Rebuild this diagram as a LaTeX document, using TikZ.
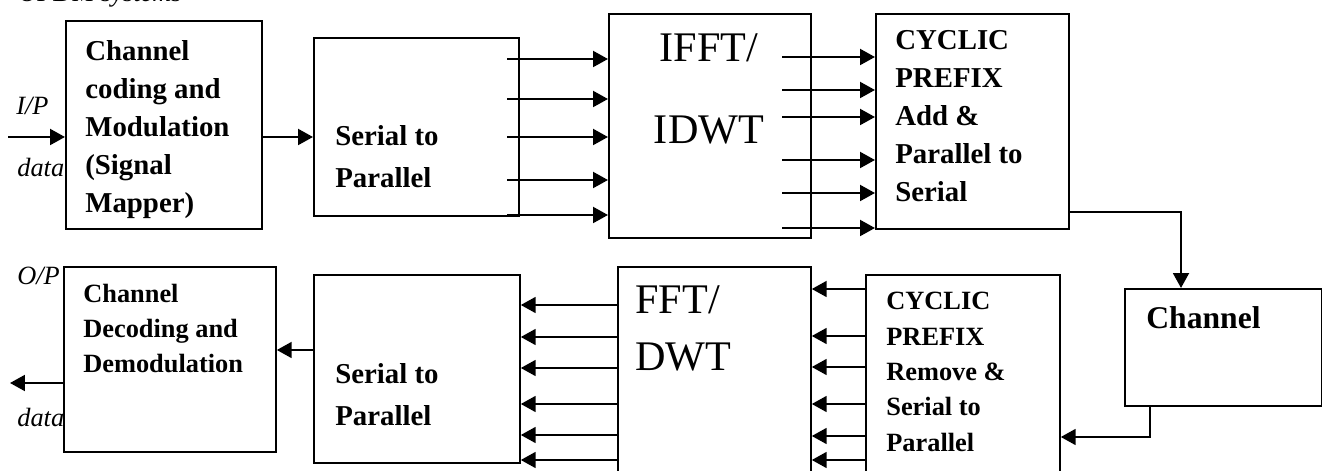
\documentclass[tikz,border=0pt]{standalone}
\usepackage{fontspec}
\setmainfont{Liberation Serif}
\usetikzlibrary{arrows.meta}

\begin{document}
\begin{tikzpicture}[
    blk/.style={rectangle, draw, line width=1pt, anchor=north west,
      inner sep=0pt},
    bt/.style={font=\fontsize{16.4}{21.7}\selectfont\bfseries, align=left,
      anchor=north west, inner sep=0pt},
    st/.style={font=\fontsize{15}{19.9}\selectfont\bfseries, align=left,
      anchor=north west, inner sep=0pt},
    big/.style={font=\fontsize{24}{47}\selectfont, inner sep=0pt},
    io/.style={font=\fontsize{15}{18}\selectfont\itshape, anchor=base west,
      inner sep=0pt},
    arr/.style={-{Triangle[length=8.5pt, width=9pt]}, line width=1.4pt}
  ]
  \useasboundingbox (0,0) rectangle (26.44,-9.42);
  \clip (0,0) rectangle (26.44,-9.42);
  % === Transmitter row ===
  \node[io] (title) at (0.36,-0.04) {OFDM systems};
  \node[blk, minimum width=3.92cm, minimum height=4.16cm] (cc) at (1.30,-0.40) {};
  \node[blk, minimum width=4.10cm, minimum height=3.56cm] (sp1) at (6.26,-0.74) {};
  \node[blk, minimum width=4.04cm, minimum height=4.48cm] (ifft) at (12.16,-0.26) {};
  \node[blk, minimum width=3.86cm, minimum height=4.30cm] (cpa) at (17.50,-0.26) {};
  \node[blk, minimum width=3.94cm, minimum height=2.34cm] (chan) at (22.48,-5.76) {};
  % box texts
  \node[bt] (cctxt) at (1.70,-0.80)
  {Channel\\coding and\\Modulation\\(Signal\\Mapper)};
  \node[bt, font=\fontsize{16.4}{23.8}\selectfont\bfseries] (sp1txt)
  at (6.70,-2.50) {Serial to\\Parallel};
  \node[big, anchor=north, align=center] (iffttxt) at (14.18,-0.66)
  {IFFT/\\IDWT};
  \node[bt] (cpatxt) at (17.90,-0.60)
  {CYCLIC\\PREFIX\\Add \&\\Parallel to\\Serial};
  \node[font=\fontsize{18}{22}\selectfont\bfseries, anchor=base west,
  inner sep=0pt] (chantxt) at (22.92,-6.58) {Channel};
  % === Receiver row ===
  \node[blk, minimum width=4.24cm, minimum height=3.70cm] (cd) at (1.26,-5.32) {};
  \node[blk, minimum width=4.12cm, minimum height=3.76cm] (sp2) at (6.26,-5.48) {};
  \node[blk, minimum width=3.86cm, minimum height=4.30cm] (fft) at (12.34,-5.32) {};
  \node[blk, minimum width=3.88cm, minimum height=4.20cm] (cpr) at (17.30,-5.48) {};
  \node[st] (cdtxt) at (1.66,-5.68) {Channel\\Decoding and\\Demodulation};
  \node[bt, font=\fontsize{16.4}{23.8}\selectfont\bfseries] (sp2txt)
  at (6.70,-7.26) {Serial to\\Parallel};
  \node[big, font=\fontsize{24}{32.9}\selectfont, anchor=north west,
  align=left] (ffttxt) at (12.70,-5.70) {FFT/\\DWT};
  \node[st, font=\fontsize{15}{20.1}\selectfont\bfseries] (cprtxt)
  at (17.72,-5.84) {CYCLIC\\PREFIX\\Remove \&\\Serial to\\Parallel};
  % I/O labels
  \node[io] (iplbl) at (0.32,-2.30) {I/P};
  \node[io] (ipdata) at (0.34,-3.54) {data};
  \node[io] (oplbl) at (0.34,-5.70) {O/P};
  \node[io] (opdata) at (0.34,-8.52) {data};
  % === Connectors ===
  \coordinate (inp) at (0.16,-2.74);
  \draw[arr] (inp) -- (inp -| cc.west);
  \draw[arr] (inp -| cc.east) -- (inp -| sp1.west);
  \foreach \y in {-1.18,-1.98,-2.74,-3.60,-4.30} {
    \coordinate (s) at (10.14,\y);
    \draw[arr] (s) -- (s -| ifft.west);
  }
  \foreach \y in {-1.14,-1.80,-2.34,-3.20,-3.86,-4.56} {
    \coordinate (s) at (15.64,\y);
    \draw[arr] (s) -- (s -| cpa.west);
  }
  \coordinate (c1) at (23.62,-4.24);
  \draw[arr] (c1 -| cpa.east) -- (c1) -- (c1 |- chan.north);
  \coordinate (c2) at (23.00,-8.74);
  \draw[arr] (c2 |- chan.south) -- (c2) -- (c2 -| cpr.east);
  \foreach \y in {-5.78,-6.72,-7.34,-8.08,-8.72,-9.20} {
    \coordinate (s) at (17.30,\y);
    \draw[arr] (s -| cpr.west) -- (s -| fft.east);
  }
  \foreach \y in {-6.10,-6.74,-7.36,-8.08,-8.70,-9.20} {
    \coordinate (s) at (12.34,\y);
    \draw[arr] (s -| fft.west) -- (s -| sp2.east);
  }
  \coordinate (c3) at (6.26,-7.00);
  \draw[arr] (c3 -| sp2.west) -- (c3 -| cd.east);
  \coordinate (out) at (0.20,-7.66);
  \draw[arr] (out -| cd.west) -- (out);
\end{tikzpicture}
\end{document}
